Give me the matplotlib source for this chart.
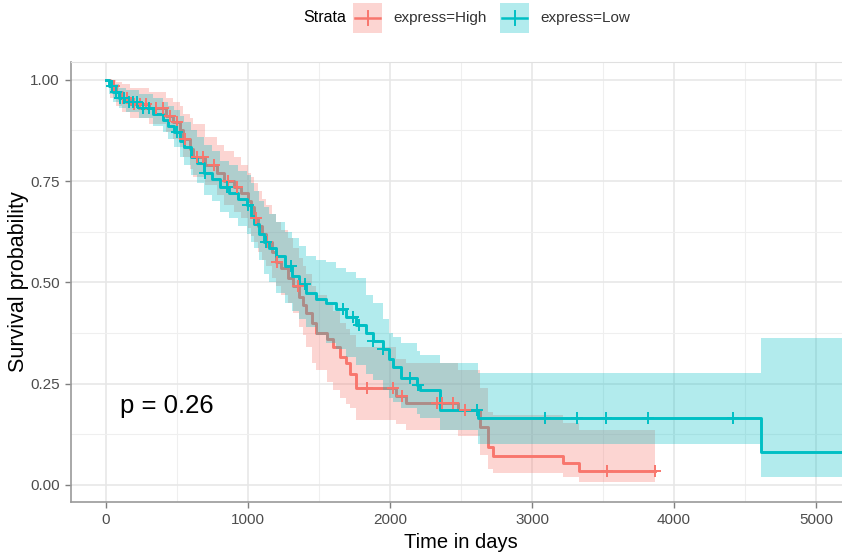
import numpy as np
import matplotlib
matplotlib.use("Agg")
import matplotlib.pyplot as plt
from matplotlib.patches import Rectangle
from matplotlib.lines import Line2D

# ---------------- data ----------------
strata = ["express=High", "express=Low"]

high_t = [0, 30, 70, 110, 170, 300, 420, 470, 520, 545, 590, 615, 700, 780, 830, 900, 950, 1000, 1020, 1045,
          1070, 1100, 1130, 1170, 1200, 1230, 1280, 1320, 1360, 1390, 1410, 1450, 1480, 1560, 1600, 1650, 1690,
          1720, 1760, 2040, 2110, 2480, 2634, 2690, 2725, 3219, 3331]
high_s = [1.0, .985, .97, .955, .94, .93, .91, .895, .875, .855, .83, .81, .79, .77, .75, .735, .72, .70, .685, .66,
          .64, .62, .60, .575, .55, .535, .51, .49, .465, .445, .425, .40, .375, .36, .34, .315, .30,
          .275, .24, .22, .202, .185, .143, .094, .072, .054, .035]
high_lo = [1.0, .955, .935, .92, .905, .89, .87, .855, .835, .81, .78, .76, .74, .715, .69, .675, .66, .635, .615, .60,
           .575, .555, .54, .51, .49, .47, .45, .425, .39, .37, .34, .30, .285, .255, .235, .215, .20,
           .19, .16, .15, .136, .12, .075, .04, .03, .02, .008]
high_hi = [1.0, 1.0, .995, .99, .98, .97, .955, .945, .935, .915, .905, .89, .86, .84, .825, .81, .79, .77, .76, .745,
           .725, .705, .69, .67, .65, .63, .61, .585, .56, .54, .52, .49, .47, .45, .43, .40, .385,
           .37, .34, .31, .30, .285, .24, .18, .173, .153, .136]
high_end = 3866
high_cens = [60, 120, 150, 200, 240, 280, 350, 400, 450, 500, 560, 640, 680, 760, 860, 920, 1060, 1135, 1205,
             1350, 1840, 2020, 2085, 2330, 2365, 2445, 2530, 3528, 3866]

low_t = [0, 20, 50, 90, 140, 230, 330, 400, 440, 480, 520, 550, 600, 640, 690, 750, 800, 870, 930, 990, 1020,
         1045, 1080, 1110, 1150, 1200, 1260, 1310, 1360, 1410, 1480, 1550, 1620, 1690, 1760, 1830, 1880, 1950,
         1990, 2020, 2080, 2190, 2211, 2352, 2620, 4611]
low_s = [1.0, .985, .97, .955, .945, .93, .915, .90, .885, .87, .85, .835, .81, .795, .77, .755, .735, .72, .705, .69,
         .665, .645, .62, .60, .585, .565, .54, .515, .495, .475, .46, .45, .435, .415, .395, .375, .355, .335,
         .31, .29, .264, .247, .235, .185, .165, .082]
low_lo = [1.0, .965, .945, .93, .92, .905, .885, .87, .855, .835, .81, .79, .765, .745, .715, .70, .675, .66, .64, .62,
          .60, .585, .555, .52, .50, .475, .45, .43, .41, .39, .37, .35, .335, .315, .295, .275, .26, .235,
          .215, .205, .19, .175, .165, .135, .10, .02]
low_hi = [1.0, 1.0, .99, .98, .975, .965, .955, .945, .935, .925, .91, .895, .875, .86, .84, .825, .80, .79, .775, .765,
          .745, .725, .70, .685, .67, .65, .625, .61, .59, .565, .555, .55, .535, .525, .51, .47, .45, .41,
          .375, .365, .35, .33, .32, .30, .276, .362]
low_end = 5400
low_cens = [40, 70, 100, 130, 160, 190, 220, 260, 300, 500, 700, 850, 1000, 1130, 1300, 1400, 1670, 1740, 1780,
            1880, 1950, 2140, 2200, 2612, 3092, 3317, 3521, 3817, 4415]

x_ticks = [0, 1000, 2000, 3000, 4000, 5000]
y_ticks = [0.0, 0.25, 0.5, 0.75, 1.0]
y_ticklabels = ["0.00", "0.25", "0.50", "0.75", "1.00"]
p_label = "p = 0.26"

# ---------------- style ----------------
FONT = "Liberation Sans"
RED = "#F8766D"
TEAL = "#00BFC4"

W, H = 842, 554
AX_L, AX_B, AX_W, AX_H = 71, 52, W - 71, 502 - 62
fig = plt.figure(figsize=(W / 100, H / 100), dpi=100)
ax = fig.add_axes([AX_L / W, AX_B / H, AX_W / W, AX_H / H])
ax.set_xlim(-246, 5183)
ax.set_ylim(-0.042, 1.044)


def draw(t, s, lo, hi, end, color, z):
    x = list(t) + [end]
    ax.fill_between(x, list(lo) + [lo[-1]], list(hi) + [hi[-1]], step="post",
                    color=color, alpha=0.3, lw=0, zorder=z)
    ax.step(x, list(s) + [s[-1]], where="post", color=color, lw=2.1, zorder=z + 0.5)


def cens(t, s, c, color):
    t = np.asarray(t)
    idx = np.searchsorted(t, c, side="right") - 1
    ys = np.asarray(s)[idx]
    ax.plot(c, ys, ls="none", marker="+", ms=9, mew=1.4, color=color, zorder=6)


draw(high_t, high_s, high_lo, high_hi, high_end, RED, 2)
draw(low_t, low_s, low_lo, low_hi, low_end, TEAL, 3)
cens(high_t, high_s, high_cens, RED)
cens(low_t, low_s, low_cens, TEAL)

# grid
ax.set_xticks(x_ticks)
ax.set_xticks([500, 1500, 2500, 3500, 4500], minor=True)
ax.set_yticks(y_ticks)
ax.set_yticks([0.125, 0.375, 0.625, 0.875], minor=True)
ax.set_yticklabels(y_ticklabels)
ax.grid(True, which="major", color="#E6E6E6", lw=1.1, zorder=0)
ax.grid(True, which="minor", color="#EFEFEF", lw=0.8, zorder=0)
ax.set_axisbelow(True)
ax.tick_params(which="minor", length=0)
ax.tick_params(which="major", length=4, width=1, color="#7F7F7F", labelcolor="#4D4D4D",
               labelsize=11, pad=4)
for lab in ax.get_xticklabels() + ax.get_yticklabels():
    lab.set_family(FONT)

for sp in ["left", "bottom"]:
    ax.spines[sp].set_color("#9A9A9A")
    ax.spines[sp].set_linewidth(1.2)
ax.spines["top"].set_color("#E0E0E0")
ax.spines["right"].set_visible(False)

ax.set_xlabel("Time in days", family=FONT, fontsize=14.5, color="black")
ax.xaxis.set_label_coords((461 - AX_L) / AX_W, -(548 - 502) / AX_H)
ax.xaxis.label.set_va("baseline")
ax.set_ylabel("Survival probability", family=FONT, fontsize=15.5, color="black")
ax.yaxis.set_label_coords(-(AX_L - 29) / AX_W, 0.5)

ax.text(99, 0.195, p_label, family=FONT, fontsize=18.5, va="center", ha="left", color="black")

# legend (top)
def px(x, y):
    return x / W, 1 - y / H

fig.text(*px(303, 18), "Strata", family=FONT, fontsize=11.5, va="center", ha="left", color="black")
keys = [(353, RED, strata[0], 393), (500, TEAL, strata[1], 540)]
for x0, col, lab, xt in keys:
    bx, by = px(x0, 33)
    fig.add_artist(Rectangle((bx, by), 29 / W, 30 / H, transform=fig.transFigure,
                             facecolor=col, alpha=0.3, lw=0))
    cx, cy = px(x0 + 14.5, 18)
    fig.add_artist(Line2D([bx + 2 / W, bx + 27 / W], [cy, cy], transform=fig.transFigure,
                          color=col, lw=1.8))
    fig.add_artist(Line2D([cx, cx], [cy - 7 / H, cy + 7 / H], transform=fig.transFigure,
                          color=col, lw=1.4))
    fig.text(*px(xt, 18), lab, family=FONT, fontsize=11, va="center", ha="left", color="#333333")

fig.savefig("out.png", dpi=100)
